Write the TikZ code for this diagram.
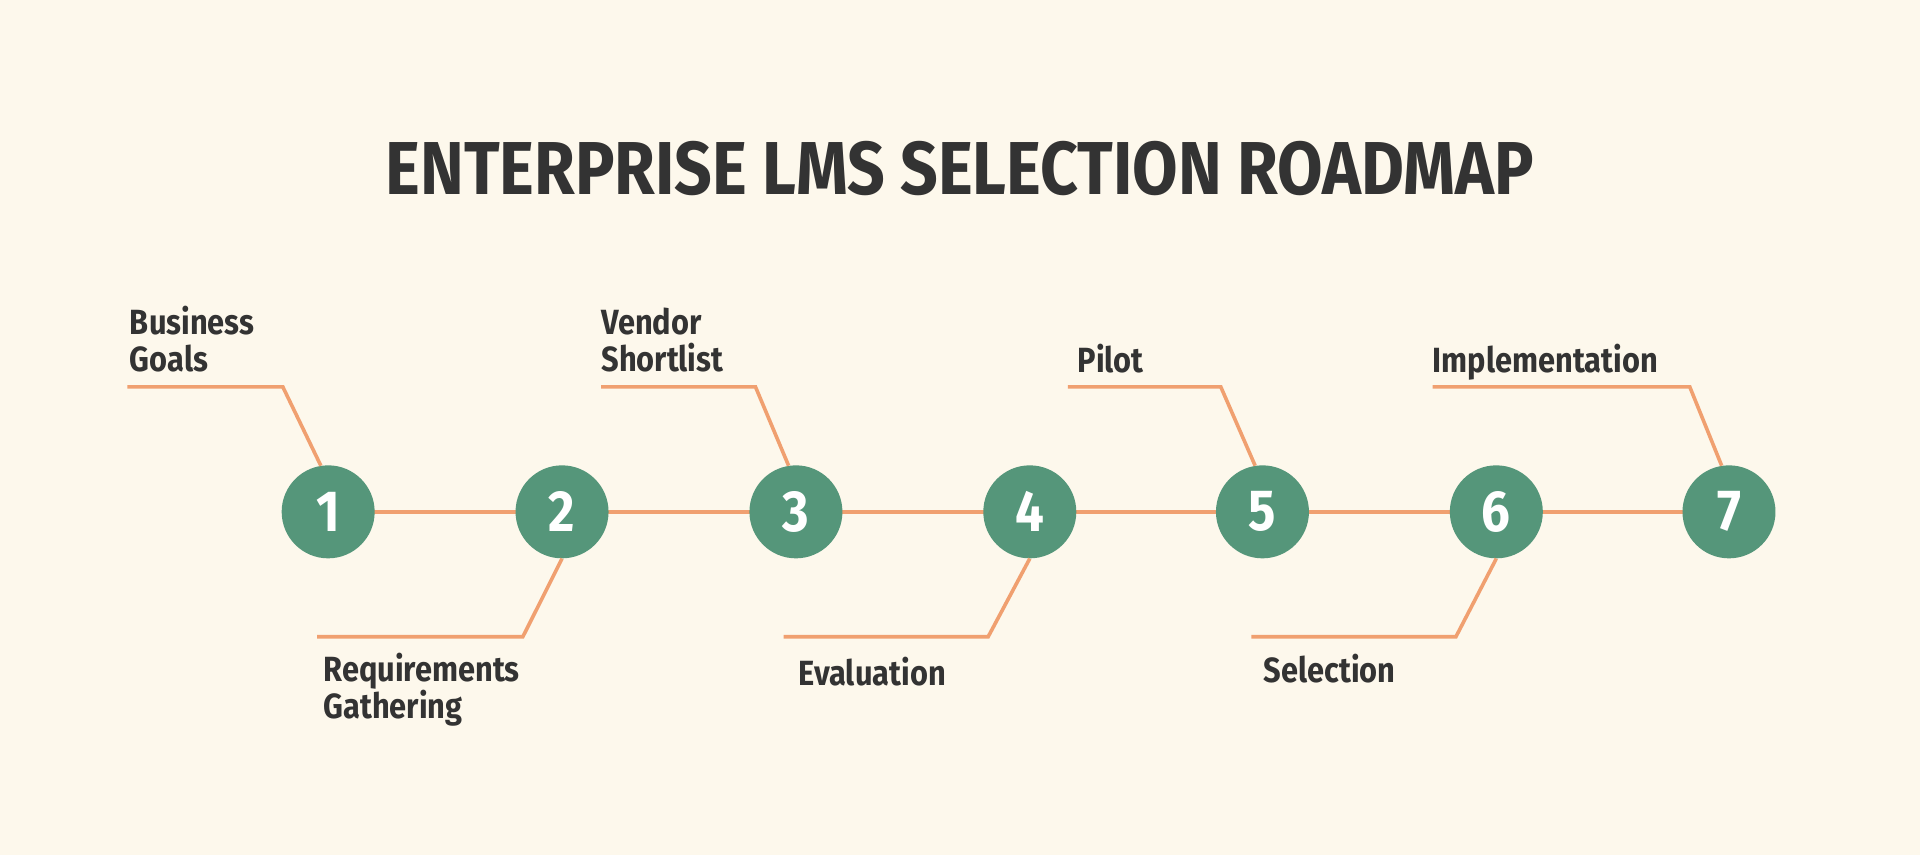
\documentclass[tikz,border=0pt]{standalone}
\usepackage{fontspec}
\setmainfont{Fira Sans}[FakeStretch=0.88]
\definecolor{bg}{HTML}{FDF8EC}
\definecolor{grn}{HTML}{55967A}
\definecolor{org}{HTML}{F0A070}
\definecolor{txt}{HTML}{333333}
\begin{document}
\begin{tikzpicture}[x=1.2245pt,y=-1.2245pt,
  stepnode/.style={circle,fill=grn,minimum size=93pt,inner sep=0pt,text=white,font=\fontsize{58}{60}\selectfont\bfseries},
  lbl/.style={anchor=base west,inner sep=0pt,text=txt,align=left,font=\fontsize{35}{37}\selectfont\bfseries},
  con/.style={draw=org,line width=3.6pt}]
\fill[bg] (0,0) rectangle (1568,698);
\useasboundingbox (0,0) rectangle (1568,698);
\node[text=txt,font=\fontsize{75}{78}\selectfont\bfseries,anchor=base] (title) at (784,159) {ENTERPRISE LMS SELECTION ROADMAP};
\draw[con] (268,418) -- (1412,418);
\foreach \i/\x in {1/268,2/459,3/650,4/841,5/1031,6/1222,7/1412}{\node[stepnode] (s\i) at (\x,418) {\i};}
% top callouts
\coordinate (k1) at (231,316); \coordinate (e1) at (104,316);
\draw[con] (s1.99) -- (k1) -- (e1);
\node[lbl] (t1) at (106,303) {Business\\Goals};
\coordinate (k3) at (617,316); \coordinate (e3) at (491,316);
\draw[con] (s3.99) -- (k3) -- (e3);
\node[lbl] (t3) at (491,303) {Vendor\\Shortlist};
\coordinate (k5) at (997,316); \coordinate (e5) at (872,316);
\draw[con] (s5.99) -- (k5) -- (e5);
\node[lbl] (t5) at (880,304) {Pilot};
\coordinate (k7) at (1380,316); \coordinate (e7) at (1170,316);
\draw[con] (s7.99) -- (k7) -- (e7);
\node[lbl] (t7) at (1170,304) {Implementation};
% bottom callouts
\coordinate (k2) at (427,520); \coordinate (e2) at (259,520);
\draw[con] (s2.south) -- (k2) -- (e2);
\node[lbl] (t2) at (264,587) {Requirements\\Gathering};
\coordinate (k4) at (807,520); \coordinate (e4) at (640,520);
\draw[con] (s4.south) -- (k4) -- (e4);
\node[lbl] (t4) at (652,560) {Evaluation};
\coordinate (k6) at (1189,520); \coordinate (e6) at (1022,520);
\draw[con] (s6.south) -- (k6) -- (e6);
\node[lbl] (t6) at (1032,557) {Selection};
\end{tikzpicture}
\end{document}
